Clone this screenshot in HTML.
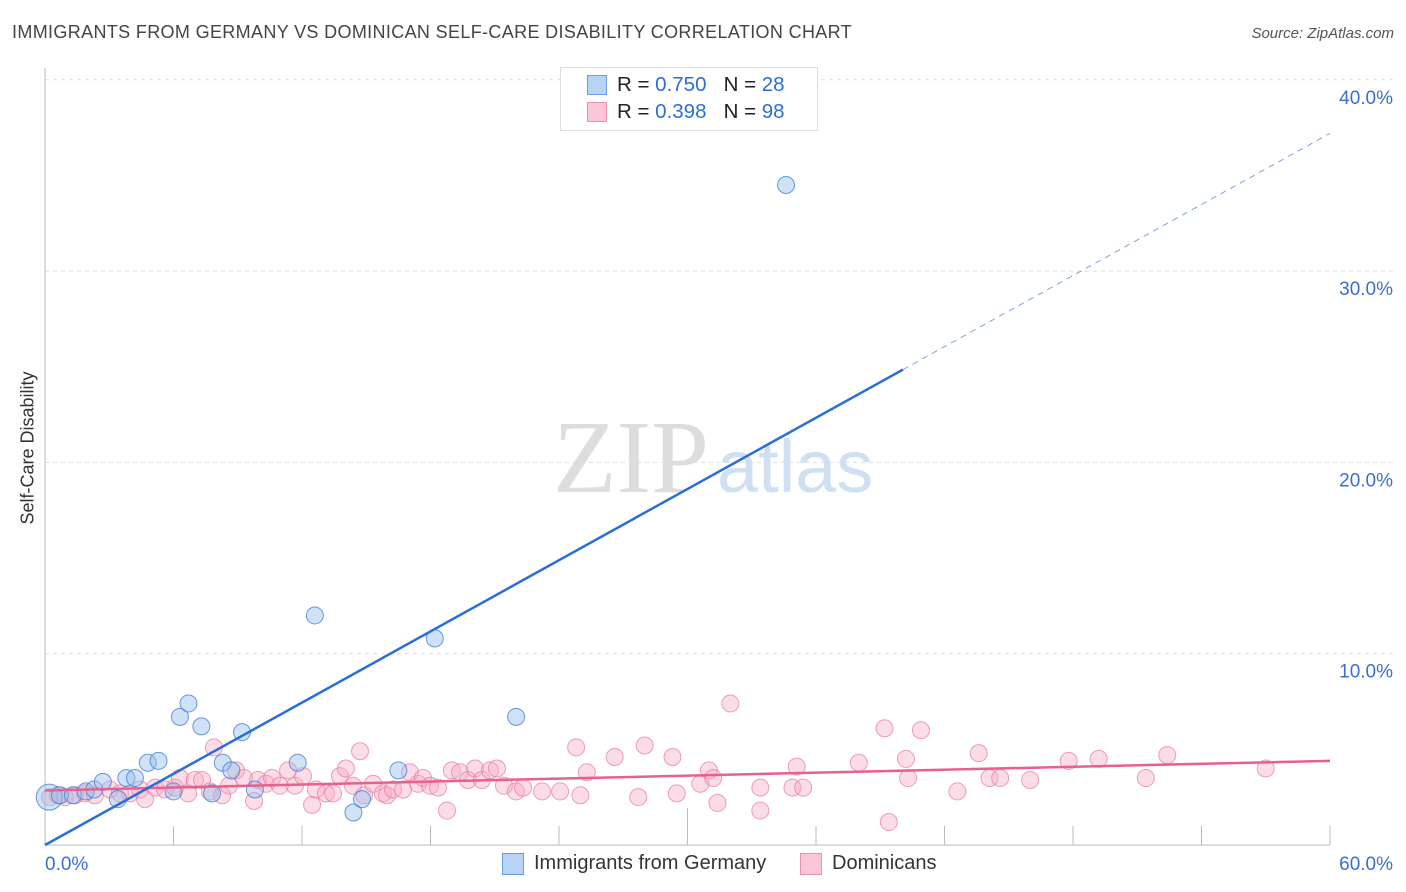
<!DOCTYPE html>
<html><head><meta charset="utf-8">
<style>
body{margin:0;background:#fff;font-family:"Liberation Sans",sans-serif;}
#wrap{position:relative;width:1406px;height:892px;overflow:hidden;}
.t{position:absolute;white-space:nowrap;}
</style></head><body>
<div id="wrap">
<div class="t" style="left:12px;top:22px;font-size:18px;letter-spacing:0.35px;color:#444;">IMMIGRANTS FROM GERMANY VS DOMINICAN SELF-CARE DISABILITY CORRELATION CHART</div>
<div class="t" style="right:12px;top:25px;font-size:15px;color:#555;font-style:italic;">Source: ZipAtlas.com</div>
<div class="t" style="left:-42px;top:444px;font-size:18px;color:#333;transform:rotate(-90deg);width:140px;text-align:center;">Self-Care Disability</div>
<svg id="svg" width="1406" height="892" style="position:absolute;left:0;top:0"></svg>
</div>
<script>
const xTicks=[0,6,12,18,24,30,36,42,48,54,60];
const yTicks=[10,20,30,40];
const yTickLabels=["10.0%","20.0%","30.0%","40.0%"];
const germanyX=[0.2,0.7,1.3,1.9,2.3,2.7,3.4,3.8,4.2,4.8,5.3,6.0,6.3,6.7,7.3,7.8,8.3,8.7,9.2,9.8,11.8,12.6,14.4,14.8,16.5,18.2,22.0,34.6];
const germanyY=[2.5,2.6,2.6,2.8,2.9,3.3,2.4,3.5,3.5,4.3,4.4,2.8,6.7,7.4,6.2,2.7,4.3,3.9,5.9,2.9,4.3,12.0,1.7,2.4,3.9,10.8,6.7,34.5];
const domX=[0.23,0.61,0.93,1.4,1.87,2.33,3.03,3.5,3.97,4.44,4.67,5.14,5.6,6.07,6.3,6.68,7.0,7.33,7.7,7.89,8.27,8.59,8.92,9.29,9.76,9.95,10.32,10.6,10.97,11.35,11.67,12.05,12.47,12.65,13.12,13.45,13.77,14.05,14.38,14.71,14.9,15.32,15.78,15.97,16.25,16.72,17.04,17.42,17.65,17.98,18.35,18.77,19.0,19.38,19.75,20.08,20.4,20.78,21.1,21.43,21.99,22.32,23.21,24.05,24.8,25.3,26.6,27.7,28.0,29.3,29.5,30.6,31.0,31.2,31.4,32.0,33.4,33.4,34.9,35.1,35.4,38.0,39.2,39.4,40.2,40.3,40.9,42.6,43.6,44.1,44.6,47.8,49.2,51.4,52.4,57.0,46.0,25.0];
const domY=[2.5,2.6,2.5,2.6,2.7,2.6,2.9,2.7,2.7,2.9,2.4,3.0,2.9,3.0,3.5,2.7,3.4,3.4,2.8,5.1,2.6,3.1,3.9,3.5,2.3,3.4,3.2,3.5,3.1,3.9,3.1,3.6,2.1,2.9,2.7,2.7,3.6,4.0,3.1,4.9,2.6,3.2,2.7,2.6,2.9,2.9,3.8,3.2,3.5,3.1,3.0,1.8,3.9,3.8,3.4,4.0,3.4,3.9,4.0,3.1,2.8,3.0,2.8,2.8,5.1,3.8,4.6,2.5,5.2,4.6,2.7,3.2,3.9,3.5,2.2,7.4,1.8,3.0,3.0,4.1,3.0,4.3,6.1,1.2,4.5,3.5,6.0,2.8,4.8,3.5,3.5,4.4,4.5,3.5,4.7,4.0,3.4,2.6];
const X0=45,X1=1330,Y0=845,YPER=19.13;
const sx=v=>X0+(X1-X0)*v/60, sy=v=>Y0-v*YPER;
const svg=document.getElementById('svg');const NS='http://www.w3.org/2000/svg';
function mk(tag,attrs,name){const e=document.createElementNS(NS,tag);for(const k in attrs)e.setAttribute(k,attrs[k]);


svg.appendChild(e);return e;}
yTicks.forEach((v,i)=>{mk('line',{x1:X0,x2:1395,y1:sy(v),y2:sy(v),stroke:'#ddd','stroke-dasharray':'4,4'},'y-gridline');
const t=mk('text',{x:1393,y:sy(v)+24,'text-anchor':'end','font-size':19,fill:'#3a6fd0'},'y-tick-label');t.textContent=yTickLabels[i];});
mk('line',{x1:X0,x2:X0,y1:68,y2:Y0,stroke:'#bbb'},'y-axis-line');
mk('line',{x1:X0,x2:X1,y1:Y0,y2:Y0,stroke:'#bbb'},'x-axis-line');
xTicks.forEach((v,i)=>{if(i==0)return;mk('line',{x1:sx(v),x2:sx(v),y1:(i==5?808:826),y2:Y0,stroke:'#bbb'},'x-tick');});
let t=mk('text',{x:45,y:870,'font-size':19,fill:'#3a6fd0'},'x-tick-label');t.textContent='0.0%';
t=mk('text',{x:1393,y:870,'text-anchor':'end','font-size':19,fill:'#3a6fd0'},'x-tick-label');t.textContent='60.0%';
t=mk('text',{x:553,y:492,'font-size':104,fill:'#ddd','font-family':'Liberation Serif'},'watermark-zip');t.textContent='ZIP';
t=mk('text',{x:717,y:492,'font-size':74,fill:'#cfe0f3'},'watermark-atlas');t.textContent='atlas';
domX.forEach((x,i)=>mk('circle',{cx:sx(x),cy:sy(domY[i]),r:8.5,fill:'rgba(248,170,195,0.4)',stroke:'rgba(230,120,155,0.7)','stroke-width':1},'dominican-point'));
germanyX.forEach((x,i)=>mk('circle',{cx:sx(x),cy:sy(germanyY[i]),r:(i==0?13:8.5),fill:'rgba(150,190,240,0.45)',stroke:'rgba(60,120,210,0.75)','stroke-width':1},'germany-point'));
mk('line',{x1:sx(0),y1:sy(2.85),x2:sx(60),y2:sy(4.4),stroke:'#e8608c','stroke-width':2.5},'dominican-trendline');
mk('line',{x1:sx(0),y1:sy(0),x2:sx(40.06),y2:sy(24.85),stroke:'#2a6fd6','stroke-width':2.5},'germany-trendline');
mk('line',{x1:sx(40.06),y1:sy(24.85),x2:sx(60),y2:sy(37.2),stroke:'#7aa3e0','stroke-width':1,'stroke-dasharray':'6,5'},'germany-trendline-extension');
</script>
<div class="t" style="left:560px;top:67px;width:256px;height:62px;border:1px solid #ddd;background:#fff;"></div>
<div class="t" style="left:587px;top:75px;width:18px;height:18px;background:#b8d3f5;border:1px solid #6b9ee0;"></div>
<div class="t" style="left:617px;top:73px;font-size:20.5px;color:#222;">R = <span style="color:#2a6fd6">0.750</span>&nbsp;&nbsp;&nbsp;N = <span style="color:#2a6fd6">28</span></div>
<div class="t" style="left:587px;top:102px;width:18px;height:18px;background:#fbc6d6;border:1px solid #e892ae;"></div>
<div class="t" style="left:617px;top:100px;font-size:20.5px;color:#222;">R = <span style="color:#2a6fd6">0.398</span>&nbsp;&nbsp;&nbsp;N = <span style="color:#2a6fd6">98</span></div>
<div class="t" style="left:502px;top:853px;width:20px;height:20px;background:#b8d3f5;border:1px solid #6b9ee0;"></div>
<div class="t" style="left:534px;top:852px;font-size:20px;color:#333;">Immigrants from Germany</div>
<div class="t" style="left:800px;top:853px;width:20px;height:20px;background:#fbc6d6;border:1px solid #e892ae;"></div>
<div class="t" style="left:832px;top:852px;font-size:20px;color:#333;">Dominicans</div>
</body></html>
